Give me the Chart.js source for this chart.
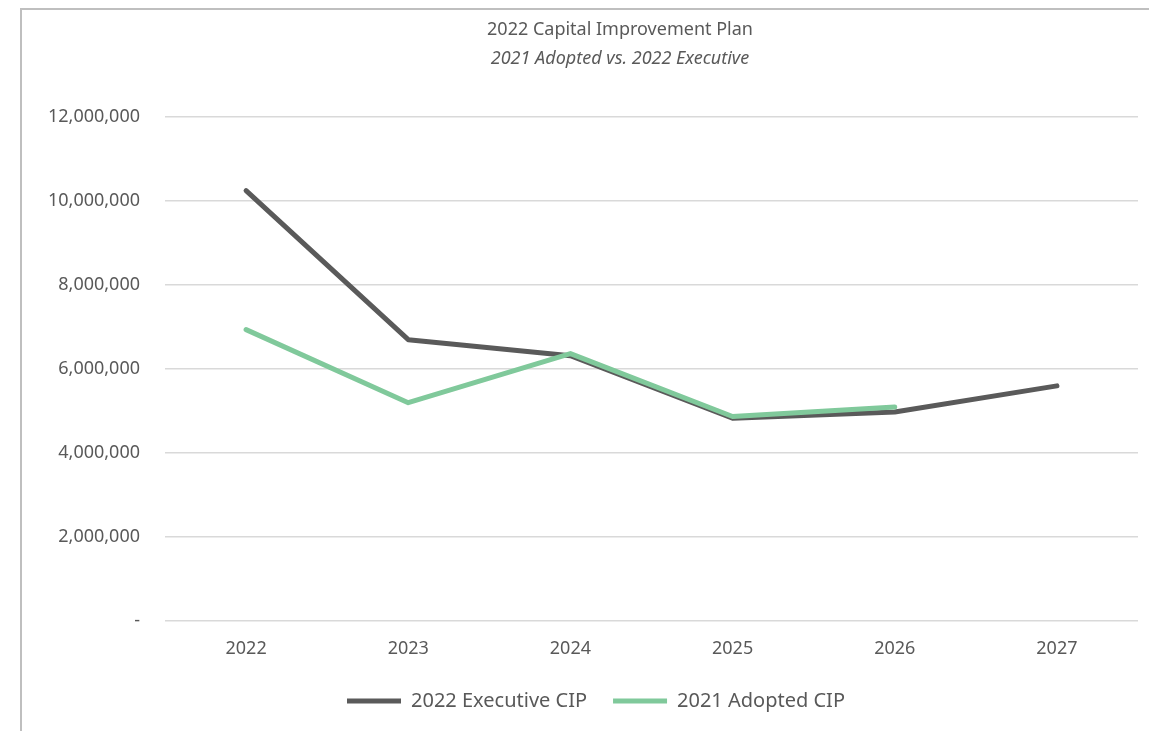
<html>
    <head>
        <title>2022 Capital Improvement Plan</title>
        <script src="https://cdn.jsdelivr.net/npm/chart.js"></script>
        <style>
            body {
                margin: 0;
                background: white;
                overflow: hidden;
                font-family: "Noto Sans";
            }
            #frame {
                position: absolute;
                left: 20px;
                top: 8px;
                width: 1127px;
                height: 721px;
                border-left: 2px solid #bfbfbf;
                border-top: 2px solid #bfbfbf;
            }
            #wrap {
                position: absolute;
                left: 0;
                top: 0;
                width: 1149px;
                height: 731px;
            }
        </style>
    </head>
    <body>
        <div id="frame"></div>
        <div id="wrap">
            <canvas id="chart"></canvas>
        </div>
        <script>
            const years = ['2022', '2023', '2024', '2025', '2026', '2027'];
            const executiveCip = [10250000, 6700000, 6320000, 4830000, 4980000, 5600000];
            const adoptedCip = [6940000, 5200000, 6370000, 4870000, 5100000, null];
            const yTicks = [0, 2000000, 4000000, 6000000, 8000000, 10000000, 12000000];

            const textColor = '#595959';

            // the original chart box is wider than the window, so its title and
            // legend are centred further right than the canvas centre
            const shiftBoxes = {
                id: 'shiftBoxes',
                afterLayout(chart) {
                    chart.boxes.forEach(function(b) {
                        if (b.options && 'text' in b.options && b.position === 'top') {
                            const d = 620 - (b.left + b.right) / 2;
                            b.left += d;
                            b.right += d;
                        }
                    });
                    const lg = chart.legend;
                    const d2 = 596 - (lg.left + lg.right) / 2;
                    lg.left += d2;
                    lg.right += d2;
                }
            };

            const data = {
                labels: years,
                datasets: [
                    {
                        label: '2022 Executive CIP',
                        data: executiveCip,
                        borderColor: '#5a5a5a',
                        backgroundColor: '#5a5a5a',
                        borderWidth: 5,
                        borderCapStyle: 'round',
                        borderJoinStyle: 'round',
                        pointRadius: 0,
                        order: 2
                    },
                    {
                        label: '2021 Adopted CIP',
                        data: adoptedCip,
                        borderColor: '#80c99b',
                        backgroundColor: '#80c99b',
                        borderWidth: 5,
                        borderCapStyle: 'round',
                        borderJoinStyle: 'round',
                        pointRadius: 0,
                        order: 1
                    }
                ]
            };

            const config = {
                type: 'line',
                data: data,
                options: {
                    responsive: true,
                    maintainAspectRatio: false,
                    animation: false,
                    layout: {
                        padding: { left: 30, right: 11, top: 0, bottom: 10 }
                    },
                    plugins: {
                        title: {
                            display: true,
                            text: '2022 Capital Improvement Plan',
                            color: textColor,
                            font: { family: 'Noto Sans', size: 18, weight: 'normal' },
                            padding: { top: 19, bottom: 7 }
                        },
                        subtitle: {
                            display: true,
                            text: '2021 Adopted vs. 2022 Executive',
                            color: textColor,
                            font: { family: 'Noto Sans', size: 18, style: 'italic' },
                            padding: { top: 0, bottom: 48 }
                        },
                        legend: {
                            position: 'bottom',
                            labels: {
                                color: textColor,
                                font: { family: 'Noto Sans', size: 20 },
                                usePointStyle: true,
                                pointStyleWidth: 54,
                                pointStyle: 'line',
                                padding: 26,
                                sort: (a, b) => a.datasetIndex - b.datasetIndex
                            }
                        },
                        tooltip: { enabled: false }
                    },
                    scales: {
                        x: {
                            offset: true,
                            grid: { display: false },
                            border: { display: false },
                            ticks: {
                                color: textColor,
                                font: { family: 'Noto Sans', size: 18 },
                                padding: 9
                            },
                            afterFit: function(scale) { scale.height = 44; }
                        },
                        y: {
                            min: 0,
                            max: 12000000,
                            afterBuildTicks: function(scale) {
                                scale.ticks = yTicks.map(v => ({ value: v }));
                            },
                            grid: {
                                color: '#d9d9d9',
                                lineWidth: 1.5,
                                drawTicks: false
                            },
                            border: { display: false },
                            ticks: {
                                color: textColor,
                                font: { family: 'Noto Sans', size: 18 },
                                padding: 25,
                                callback: function(value) {
                                    return value === 0 ? '-' : value.toLocaleString('en-US');
                                }
                            },
                            afterFit: function(scale) { scale.width = 135; }
                        }
                    }
                },
                plugins: [shiftBoxes]
            };

            const myChart = new Chart(document.getElementById('chart'), config);
        </script>
    </body>
</html>
